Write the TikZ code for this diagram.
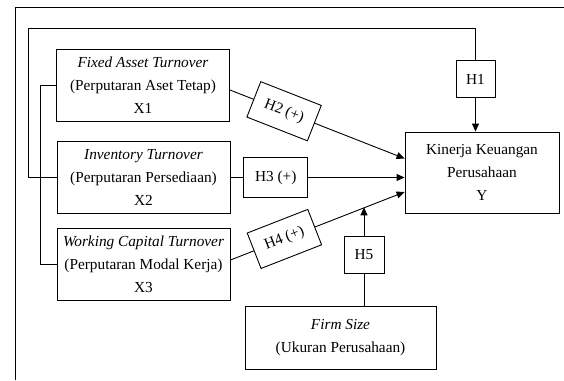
\documentclass[tikz,border=0pt]{standalone}
\usepackage{fontspec}
\setmainfont{Liberation Serif}
\usetikzlibrary{arrows.meta}
\begin{document}
\begin{tikzpicture}[
    x=1pt, y=-1pt,
    line width=0.9pt,
    every node/.style={inner sep=0pt, align=center, font=\fontsize{15.3}{23}\selectfont},
    varbox/.style={draw, minimum width=173pt, minimum height=72pt},
    hypbox/.style={draw, fill=white, minimum height=37pt},
    arr/.style={-{Triangle[length=8pt,width=7pt]}}
]
    \useasboundingbox (0,0) rectangle (564,380);
    \draw (15,380) -- (15,7) -- (564,7);

    \node[varbox] (x1) at (143,85) {\textit{Fixed Asset Turnover}\\(Perputaran Aset Tetap)\\X1};
    \node[varbox] (x2) at (143.5,177.5) {\textit{Inventory Turnover}\\(Perputaran Persediaan)\\X2};
    \node[varbox] (x3) at (143.5,264.5) {\textit{Working Capital Turnover}\\(Perputaran Modal Kerja)\\X3};
    \node[draw, minimum width=154pt, minimum height=81pt] (y) at (482,172.5) {Kinerja Keuangan\\Perusahaan\\Y};
    \node[draw, minimum width=191pt, minimum height=63pt] (firm) at (340.5,337.5) {\textit{Firm Size}\\(Ukuran Perusahaan)};

    \node[hypbox, minimum width=39pt] (h1) at (475.5,79) {H1};
    \node[hypbox, minimum width=40pt] (h5) at (364,254.5) {H5};

    \draw (x1.west) -- ++(-16,0) |- (x3.west);
    \draw (x2.west) -- ++(-28,0) |- ([yshift=32pt]h1.north) -- (h1.north);
    \draw[arr] (h1.south) -- (h1 |- y.north);

    \draw[arr] ([yshift=-5pt]x1.east) -- node[hypbox, sloped, pos=0.31, minimum width=65pt, minimum height=38pt] (h2) {H2 (+)} ([yshift=14pt]y.west);
    \draw[arr] (x2.east) -- node[hypbox, pos=0.26, minimum width=64pt, minimum height=40pt] (h3) {H3 (+)} (x2.east -| y.west);
    \draw[arr] ([yshift=4.5pt]x3.east) -- node[hypbox, sloped, pos=0.31, minimum width=65pt, minimum height=38pt] (h4) {H4 (+)} coordinate[pos=0.775] (m) ([yshift=-19.5pt]y.west);

    \draw (firm.north -| h5) -- (h5.south);
    \draw[arr] (h5.north) -- (h5 |- m);
\end{tikzpicture}
\end{document}
